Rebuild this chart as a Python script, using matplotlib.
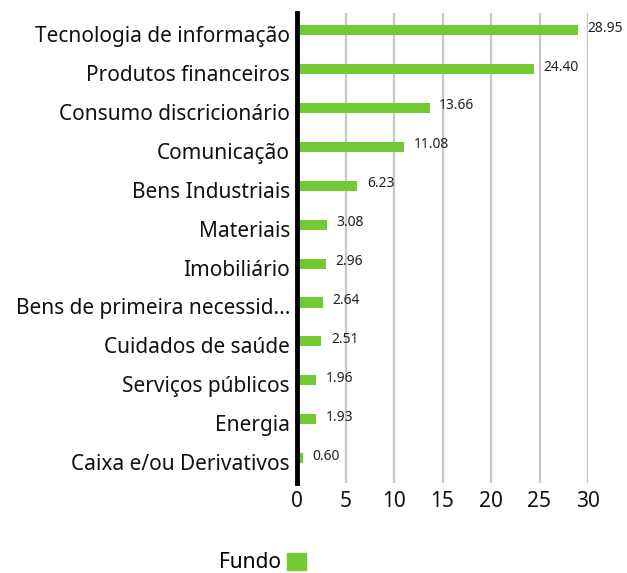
import matplotlib.pyplot as plt
import matplotlib.transforms as mtransforms
from matplotlib.patches import Patch

categories = [
    'Tecnologia de informação',
    'Produtos financeiros',
    'Consumo discricionário',
    'Comunicação',
    'Bens Industriais',
    'Materiais',
    'Imobiliário',
    'Bens de primeira necessid...',
    'Cuidados de saúde',
    'Serviços públicos',
    'Energia',
    'Caixa e/ou Derivativos',
]
fundo = [28.95, 24.40, 13.66, 11.08, 6.23, 3.08, 2.96, 2.64, 2.51, 1.96, 1.93, 0.60]
x_ticks = [0, 5, 10, 15, 20, 25, 30]

GREEN = '#73c934'

plt.rcParams['font.family'] = ['Noto Sans', 'DejaVu Sans']

fig = plt.figure(figsize=(6.27, 5.73), dpi=100)
ax = fig.add_axes([297 / 627, 1 - 483 / 573, (588 - 297) / 627, 470 / 573])

y = list(range(len(categories)))
ax.barh(y, fundo, height=0.26, color=GREEN, zorder=3)

for yi, v in zip(y, fundo):
    ax.text(v + 1.0, yi - 0.05, f'{v:.2f}', va='center', ha='left',
            fontsize=10, color='#222222', clip_on=False)

ax.set_xlim(0, 30)
ax.set_ylim(11.64, -0.44)
ax.set_yticks(y)
ax.set_yticklabels(categories, fontsize=15, color='#111111')
ax.set_xticks(x_ticks)
ax.set_xticklabels([str(t) for t in x_ticks], fontsize=15, color='#111111')
ax.tick_params(axis='both', length=0)
ax.tick_params(axis='y', pad=5)
ax.tick_params(axis='x', pad=6)

# category labels sit a little below the bars in the original
shift = mtransforms.ScaledTranslation(0, -4 / 100, fig.dpi_scale_trans)
for lab in ax.get_yticklabels():
    lab.set_transform(lab.get_transform() + shift)

for t in x_ticks[1:]:
    ax.axvline(t, color='#c8c8c8', linewidth=1.6, zorder=1)

for side in ['top', 'right', 'bottom']:
    ax.spines[side].set_visible(False)
ax.spines['left'].set_linewidth(3.5)
ax.spines['left'].set_color('black')
ax.spines['left'].set_zorder(4)

fig.legend(handles=[Patch(color=GREEN)], labels=['Fundo'], markerfirst=False,
           loc='center left', bbox_to_anchor=(200 / 627, 1 - 563 / 573),
           frameon=False, handlelength=0.9, handleheight=0.9, handletextpad=0.3,
           fontsize=15)

fig.savefig('out.png', dpi=100)
